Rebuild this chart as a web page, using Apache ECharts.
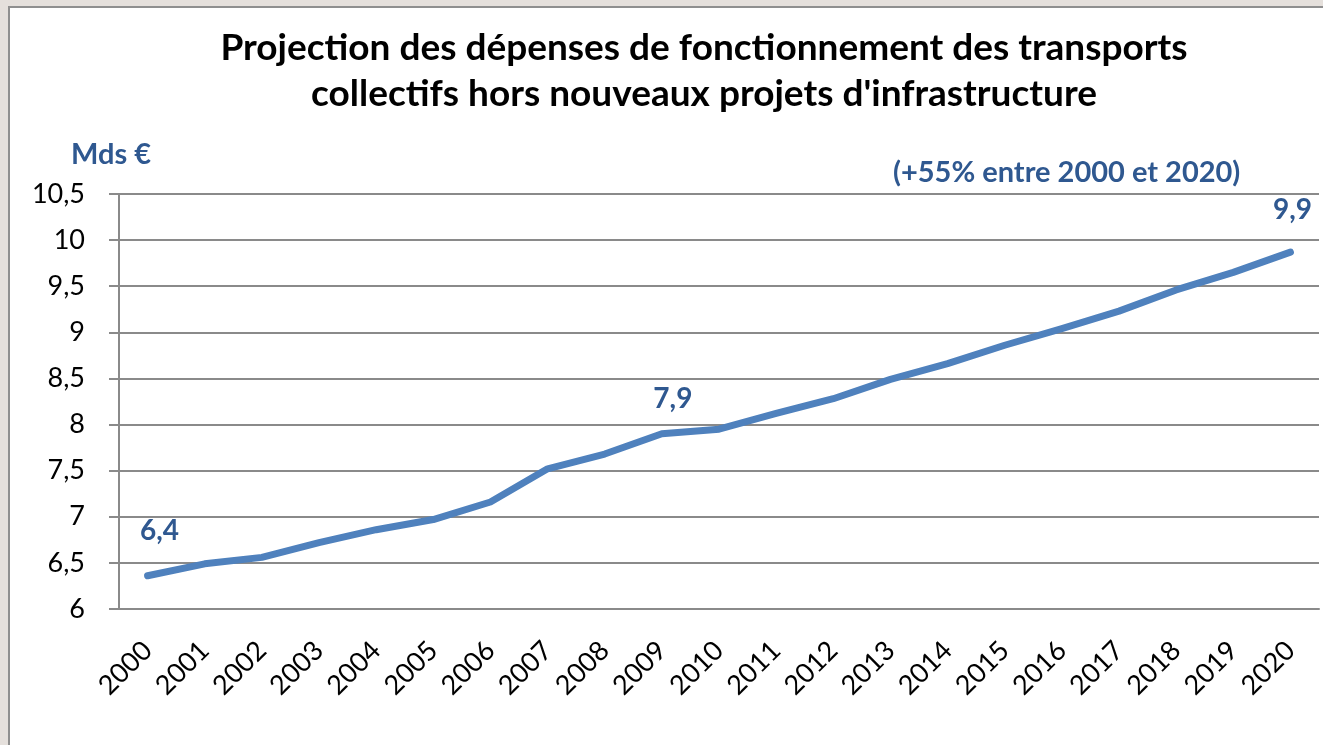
<!DOCTYPE html>
<html>
<head>
<meta charset="utf-8">
<script src="https://cdn.jsdelivr.net/npm/echarts@6/dist/echarts.min.js"></script>
<style>
    html, body { margin: 0; padding: 0; width: 1323px; height: 745px; overflow: hidden; background: #e5e0dc; }
    #panel { position: absolute; left: 8px; top: 6px; width: 1330px; height: 760px; background: #fff; border: 2px solid #8f8f8f; }
    #main { position: absolute; left: 0; top: 0; width: 1323px; height: 745px; }
</style>
</head>
<body>
<div id="panel"></div>
<div id="main"></div>
<script>
// données
var years = ['2000', '2001', '2002', '2003', '2004', '2005', '2006', '2007', '2008', '2009', '2010',
    '2011', '2012', '2013', '2014', '2015', '2016', '2017', '2018', '2019', '2020'];
var depenses = [6.36, 6.49, 6.56, 6.72, 6.86, 6.97, 7.16, 7.52, 7.68, 7.90, 7.95,
    8.12, 8.28, 8.49, 8.66, 8.86, 9.04, 9.23, 9.46, 9.65, 9.87];
// points étiquetés : index -> décalage du texte
var labelled = { 0: [12, -30], 9: [11, -20], 20: [2, -28] };

var blue = '#2f5890';
var grey = '#8a8a8a';

function virgule(v) {
    return String(v).replace('.', ',');
}

var seriesData = depenses.map(function (v, i) {
    if (labelled[i]) {
        return {
            value: v,
            label: {
                show: true,
                position: 'top',
                distance: 0,
                offset: labelled[i],
                formatter: function (p) { return p.value.toFixed(1).replace('.', ','); },
                color: blue,
                fontFamily: 'Lato',
                fontWeight: 'bold',
                fontSize: 28
            }
        };
    }
    return v;
});

var myChart = echarts.init(document.getElementById('main'));
var option = {
    animation: false,
    title: {
        text: 'Projection des dépenses de fonctionnement des transports\ncollectifs hors nouveaux projets d\'infrastructure',
        left: 699,
        textAlign: 'center',
        top: 20,
        textStyle: {
            color: '#000',
            fontFamily: 'Lato',
            fontWeight: 'bold',
            fontSize: 37,
            lineHeight: 46
        }
    },
    grid: {
        left: 119,
        right: 4,
        top: 194,
        bottom: 136
    },
    xAxis: {
        type: 'category',
        data: years,
        boundaryGap: true,
        axisLine: { lineStyle: { color: grey, width: 2 } },
        axisTick: { length: 10, lineStyle: { color: grey, width: 2 } },
        axisLabel: {
            rotate: 45,
            margin: 37,
            color: '#000',
            fontFamily: 'Lato',
            fontSize: 27
        }
    },
    yAxis: {
        type: 'value',
        min: 6,
        max: 10.5,
        interval: 0.5,
        axisLine: { show: true, lineStyle: { color: grey, width: 2 } },
        axisTick: { show: true, length: 10, lineStyle: { color: grey, width: 2 } },
        splitLine: { lineStyle: { color: grey, width: 2 } },
        axisLabel: {
            margin: 34,
            color: '#000',
            fontFamily: 'Lato',
            fontSize: 27,
            formatter: virgule
        }
    },
    graphic: [{
        type: 'text',
        left: 71,
        top: 140,
        style: {
            text: 'Mds €',
            fill: blue,
            font: 'bold 29px Lato'
        }
    }, {
        type: 'text',
        left: 893,
        top: 158,
        style: {
            text: '(+55% entre 2000 et 2020)',
            fill: blue,
            font: 'bold 29px Lato'
        }
    }],
    series: [{
        type: 'line',
        data: seriesData,
        symbol: 'circle',
        symbolSize: 1,
        showAllSymbol: true,
        itemStyle: { color: '#4f81bd' },
        lineStyle: { color: '#4f81bd', width: 7, cap: 'round', join: 'round' }
    }]
};
myChart.setOption(option);
</script>
</body>
</html>
